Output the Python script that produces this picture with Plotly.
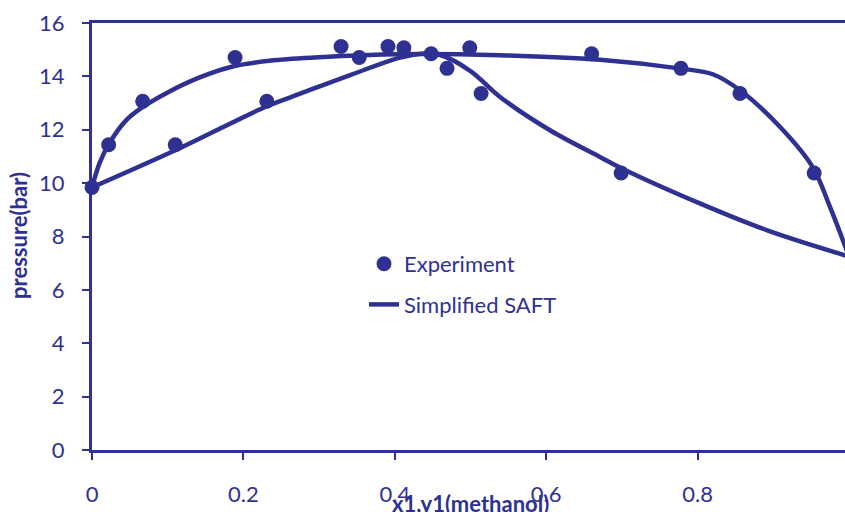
import plotly.graph_objects as go

NAVY = "#2e3192"
FONT = "Lato"

# Experimental points (x1 or y1, pressure in bar)
exp_x = [0.0, 0.022, 0.067, 0.110, 0.189, 0.231, 0.329, 0.353, 0.391, 0.412,
         0.448, 0.469, 0.499, 0.514, 0.660, 0.699, 0.778, 0.856, 0.954, 1.0]
exp_p = [9.84, 11.44, 13.07, 11.44, 14.71, 13.07, 15.12, 14.71, 15.12, 15.07,
         14.85, 14.30, 15.07, 13.36, 14.85, 10.38, 14.30, 13.36, 10.38, 7.25]

# Simplified SAFT - outer curve
saft_a_x = [0.0, 0.010, 0.022, 0.045, 0.067, 0.100, 0.143, 0.187, 0.240, 0.300,
            0.407, 0.539, 0.671, 0.778, 0.820, 0.856, 0.909, 0.952, 0.975, 1.0]
saft_a_p = [9.84, 10.75, 11.45, 12.35, 12.85, 13.40, 13.97, 14.38, 14.60, 14.72,
            14.83, 14.79, 14.62, 14.29, 14.08, 13.48, 12.10, 10.60, 9.10, 7.25]

# Simplified SAFT - inner curve
saft_b_x = [0.0, 0.110, 0.231, 0.275, 0.341, 0.407, 0.435, 0.460, 0.500, 0.539,
            0.605, 0.671, 0.700, 0.803, 0.892, 1.0]
saft_b_p = [9.84, 11.23, 12.88, 13.35, 14.05, 14.70, 14.85, 14.80, 14.20, 13.23,
            11.98, 10.98, 10.55, 9.24, 8.23, 7.25]

x_ticks = [0, 0.2, 0.4, 0.6, 0.8, 1.0]
y_ticks = [0, 2, 4, 6, 8, 10, 12, 14, 16]

fig = go.Figure()
fig.add_trace(go.Scatter(
    x=exp_x, y=exp_p, mode="markers", name="Experiment",
    marker=dict(color=NAVY, size=15), cliponaxis=False,
    legendgroup="a",
))
fig.add_trace(go.Scatter(
    x=saft_a_x, y=saft_a_p, mode="lines", name="Simplified SAFT",
    line=dict(color=NAVY, width=4.5, shape="spline", smoothing=1.0),
    cliponaxis=False, legendgroup="b",
))
fig.add_trace(go.Scatter(
    x=saft_b_x, y=saft_b_p, mode="lines", name="Simplified SAFT",
    line=dict(color=NAVY, width=4.5, shape="spline", smoothing=1.0),
    cliponaxis=False, showlegend=False, legendgroup="b",
))

fig.update_layout(
    width=845, height=512,
    margin=dict(l=92, r=0, t=23, b=62),
    plot_bgcolor="white", paper_bgcolor="white",
    font=dict(family=FONT, color=NAVY, size=22),
    showlegend=True,
    legend=dict(
        x=(364 - 92) / 753, y=(450 - 243) / 427, xanchor="left", yanchor="top",
        bgcolor="rgba(0,0,0,0)", font=dict(size=22, color=NAVY),
        tracegroupgap=9, itemwidth=30,
    ),
    xaxis=dict(
        range=[0, (845 - 92) / 757], tickvals=x_ticks,
        ticktext=["0", "0.2", "0.4", "0.6", "0.8", "1"],
        showgrid=False, zeroline=False, showline=True, linecolor=NAVY,
        linewidth=3, mirror=True, ticks="outside", ticklen=7, tickwidth=2,
        tickcolor=NAVY, ticklabelstandoff=16,
    ),
    yaxis=dict(
        range=[0, 16], tickvals=y_ticks,
        showgrid=False, zeroline=False, showline=True, linecolor=NAVY,
        linewidth=3, ticks="outside", ticklen=7, tickwidth=2,
        tickcolor=NAVY, ticklabelstandoff=13,
    ),
    annotations=[
        dict(text="<b>x1,y1(methanol)</b>", xref="paper", yref="paper",
             x=(470 - 92) / 753, y=-(504 - 450) / 427, xanchor="center",
             yanchor="middle", showarrow=False, font=dict(size=22, color=NAVY)),
        dict(text="<b>pressure(bar)</b>", xref="paper", yref="paper",
             x=-(92 - 18) / 753, y=(450 - 236) / 427, xanchor="center",
             yanchor="middle", textangle=-90, showarrow=False,
             font=dict(size=22, color=NAVY)),
    ],
)

fig.write_html("out.html")
